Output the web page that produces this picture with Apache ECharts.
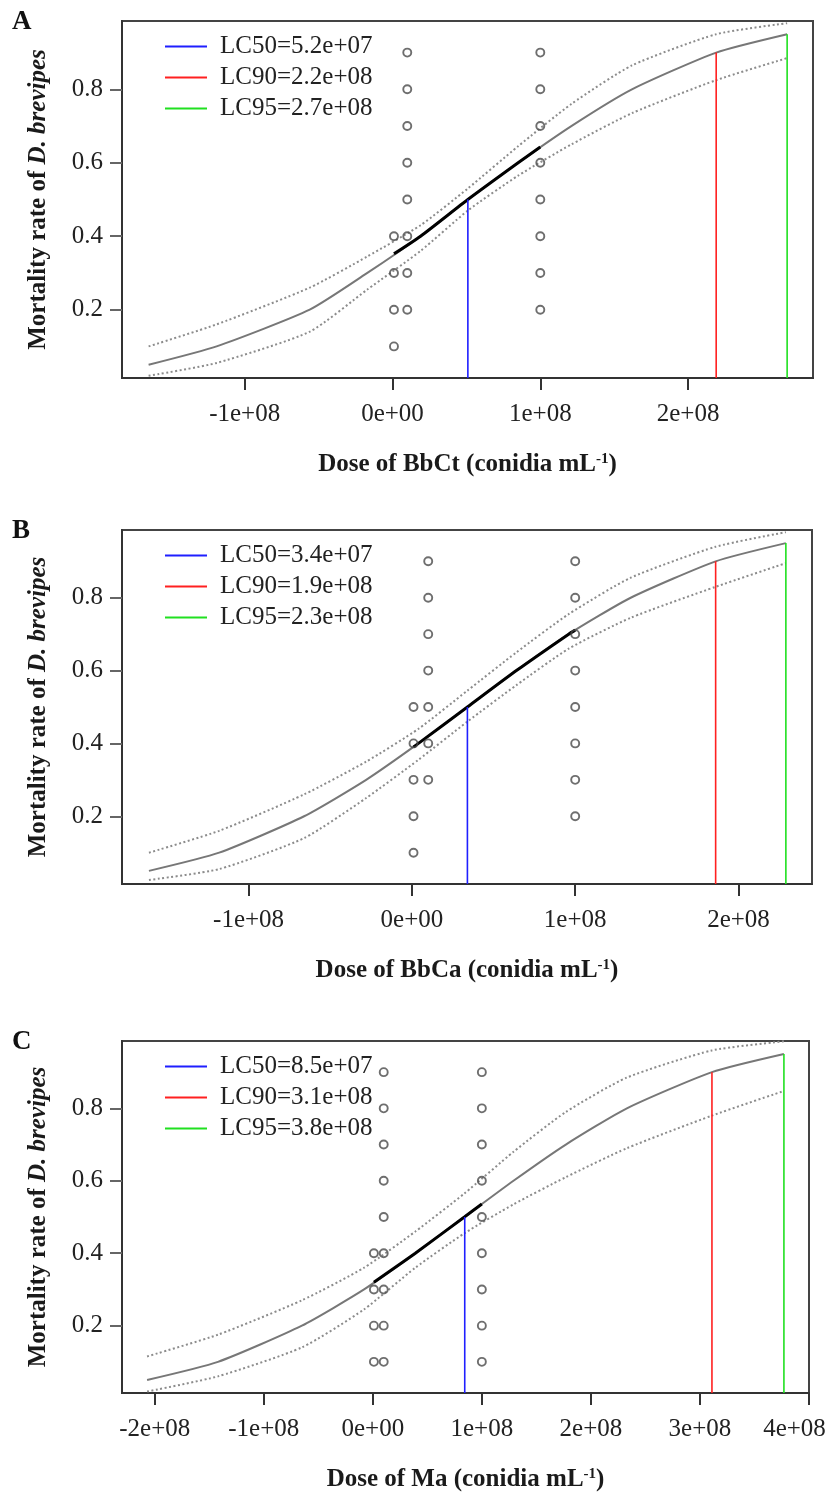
<!DOCTYPE html>
<html><head><meta charset="utf-8">
<script src="https://cdn.jsdelivr.net/npm/echarts@6/dist/echarts.min.js"></script>
<style>html,body{margin:0;padding:0;background:#fff}#c{width:835px;height:1495px}</style>
</head><body><div id="c"></div>
<script>
// probability levels at which the fitted curve / confidence limits were drawn
const probLevels = [0.05, 0.1, 0.2, 0.3, 0.4, 0.5, 0.6, 0.7, 0.8, 0.9, 0.95];
const lcLevels = [0.5, 0.9, 0.95];
const yTicks = [0.2, 0.4, 0.6, 0.8];
const yTickLabels = ['0.2', '0.4', '0.6', '0.8'];

// ---- Panel A (BbCt)
const doseA  = [-1.65e8, -1.19e8, -0.56e8, -0.17e8, 0.19e8, 0.51e8, 0.85e8, 1.21e8, 1.62e8, 2.19e8, 2.67e8];
const upperA = [0.10, 0.16, 0.26, 0.345, 0.43, 0.53, 0.645, 0.76, 0.865, 0.95, 0.98];
const lowerA = [0.02, 0.055, 0.14, 0.255, 0.36, 0.47, 0.565, 0.65, 0.735, 0.825, 0.885];
const segA   = [[0.01e8, 0.352], [0.19e8, 0.4], [0.51e8, 0.5], [0.85e8, 0.6], [1e8, 0.643]];
const obsDoseA = [1e6, 1e6, 1e6, 1e6, 1e7, 1e7, 1e7, 1e7, 1e7, 1e7, 1e7, 1e7, 1e8, 1e8, 1e8, 1e8, 1e8, 1e8, 1e8, 1e8];
const obsRateA = [0.1, 0.2, 0.3, 0.4, 0.2, 0.3, 0.4, 0.5, 0.6, 0.7, 0.8, 0.9, 0.2, 0.3, 0.4, 0.5, 0.6, 0.7, 0.8, 0.9];
const lcA = [0.51e8, 2.19e8, 2.67e8];
const lcLabelsA = ['LC50=5.2e+07', 'LC90=2.2e+08', 'LC95=2.7e+08'];
const xTicksA = [-1e8, 0, 1e8, 2e8];
const xTickLabelsA = ['-1e+08', '0e+00', '1e+08', '2e+08'];

// ---- Panel B (BbCa)
const doseB  = [-1.61e8, -1.18e8, -0.66e8, -0.28e8, 0.04e8, 0.34e8, 0.64e8, 0.96e8, 1.34e8, 1.86e8, 2.29e8];
const upperB = [0.10, 0.16, 0.26, 0.35, 0.44, 0.545, 0.65, 0.755, 0.855, 0.94, 0.98];
const lowerB = [0.025, 0.055, 0.14, 0.25, 0.355, 0.46, 0.56, 0.66, 0.745, 0.83, 0.895];
const segB   = [[0.01e8, 0.39], [0.04e8, 0.4], [0.34e8, 0.5], [0.64e8, 0.6], [0.96e8, 0.7], [1e8, 0.711]];
const obsDoseB = [1e6, 1e6, 1e6, 1e6, 1e6, 1e7, 1e7, 1e7, 1e7, 1e7, 1e7, 1e7, 1e8, 1e8, 1e8, 1e8, 1e8, 1e8, 1e8, 1e8];
const obsRateB = [0.1, 0.2, 0.3, 0.4, 0.5, 0.3, 0.4, 0.5, 0.6, 0.7, 0.8, 0.9, 0.2, 0.3, 0.4, 0.5, 0.6, 0.7, 0.8, 0.9];
const lcB = [0.34e8, 1.86e8, 2.29e8];
const lcLabelsB = ['LC50=3.4e+07', 'LC90=1.9e+08', 'LC95=2.3e+08'];
const xTicksB = [-1e8, 0, 1e8, 2e8];
const xTickLabelsB = ['-1e+08', '0e+00', '1e+08', '2e+08'];

// ---- Panel C (Ma)
const doseC  = [-2.07e8, -1.42e8, -0.65e8, -0.08e8, 0.39e8, 0.84e8, 1.29e8, 1.77e8, 2.33e8, 3.11e8, 3.77e8];
const upperC = [0.115, 0.175, 0.27, 0.36, 0.46, 0.565, 0.68, 0.79, 0.885, 0.96, 0.985];
const lowerC = [0.018, 0.06, 0.14, 0.245, 0.36, 0.455, 0.535, 0.61, 0.69, 0.78, 0.848];
const segC   = [[0.01e8, 0.32], [0.39e8, 0.4], [0.84e8, 0.5], [1e8, 0.536]];
const obsDoseC = [1e6, 1e6, 1e6, 1e6, 1e7, 1e7, 1e7, 1e7, 1e7, 1e7, 1e7, 1e7, 1e7, 1e8, 1e8, 1e8, 1e8, 1e8, 1e8, 1e8, 1e8, 1e8];
const obsRateC = [0.1, 0.2, 0.3, 0.4, 0.1, 0.2, 0.3, 0.4, 0.5, 0.6, 0.7, 0.8, 0.9, 0.1, 0.2, 0.3, 0.4, 0.5, 0.6, 0.7, 0.8, 0.9];
const lcC = [0.843e8, 3.11e8, 3.77e8];
const lcLabelsC = ['LC50=8.5e+07', 'LC90=3.1e+08', 'LC95=3.8e+08'];
const xTicksC = [-2e8, -1e8, 0, 1e8, 2e8, 3e8, 4e8];
const xTickLabelsC = ['-2e+08', '-1e+08', '0e+00', '1e+08', '2e+08', '3e+08', '4e+08'];

const panels = [
  {letter: 'A', agent: 'BbCt', dose: doseA, upper: upperA, lower: lowerA, seg: segA, od: obsDoseA, orate: obsRateA, lc: lcA, lcLabels: lcLabelsA, xt: xTicksA, xl: xTickLabelsA,
   grid: {left: 122, top: 21, width: 691, height: 357}, xmin: -1.83e8, xmax: 2.845e8, padLast: 0},
  {letter: 'B', agent: 'BbCa', dose: doseB, upper: upperB, lower: lowerB, seg: segB, od: obsDoseB, orate: obsRateB, lc: lcB, lcLabels: lcLabelsB, xt: xTicksB, xl: xTickLabelsB,
   grid: {left: 122, top: 530, width: 690, height: 354}, xmin: -1.775e8, xmax: 2.45e8, padLast: 0},
  {letter: 'C', agent: 'Ma', dose: doseC, upper: upperC, lower: lowerC, seg: segC, od: obsDoseC, orate: obsRateC, lc: lcC, lcLabels: lcLabelsC, xt: xTicksC, xl: xTickLabelsC,
   grid: {left: 122, top: 1041, width: 687, height: 352}, xmin: -2.3e8, xmax: 4.0e8, padLast: 29}
];

const YMIN = 0.014, YMAX = 0.986;
const FONT = '"Liberation Serif", "Times New Roman", serif';
const lcColors = ['#1f1fff', '#ff2020', '#20e020'];

const grids = [], xAxes = [], yAxes = [], series = [], legends = [], graphics = [];
panels.forEach((p, i) => {
  grids.push(Object.assign({show: true, borderColor: '#444', borderWidth: 2, backgroundColor: 'transparent',
    containLabel: false, outerBoundsMode: 'none'}, p.grid));
  xAxes.push({
    gridIndex: i, type: 'value', min: p.xmin, max: p.xmax,
    axisLine: {show: true, onZero: false, lineStyle: {color: '#333', width: 2}},
    axisTick: {show: true, length: 12, customValues: p.xt, lineStyle: {color: '#333', width: 2}},
    axisLabel: {customValues: p.xt, fontFamily: FONT, fontSize: 25, color: '#222', margin: 24, hideOverlap: false,
      rich: {r: {fontFamily: FONT, fontSize: 25, color: '#222', padding: [0, p.padLast, 0, 0]}},
      formatter: v => {
        const k = p.xt.findIndex(t => Math.abs(t - v) < 1);
        if (k < 0) return '';
        return (k === p.xt.length - 1 && p.padLast) ? '{r|' + p.xl[k] + '}' : p.xl[k];
      }},
    splitLine: {show: false},
    name: '{t|Dose of ' + p.agent + ' (conidia mL}{s|-1}{t|)}',
    nameLocation: 'middle', nameGap: 74,
    nameTextStyle: {rich: {
      t: {fontFamily: FONT, fontWeight: 'bold', fontSize: 25, color: '#1a1a1a'},
      s: {fontFamily: FONT, fontWeight: 'bold', fontSize: 15, color: '#1a1a1a', verticalAlign: 'top'}
    }}
  });
  yAxes.push({
    gridIndex: i, type: 'value', min: YMIN, max: YMAX,
    axisLine: {show: true, onZero: false, lineStyle: {color: '#333', width: 2}},
    axisTick: {show: true, length: 12, customValues: yTicks, lineStyle: {color: '#666', width: 2}},
    axisLabel: {customValues: yTicks, fontFamily: FONT, fontSize: 25, color: '#222', margin: 19,
      formatter: v => { const k = yTicks.findIndex(t => Math.abs(t - v) < 1e-6); return k >= 0 ? yTickLabels[k] : ''; }},
    splitLine: {show: false},
    name: '{t|Mortality rate of }{i|D. brevipes}',
    nameLocation: 'middle', nameGap: 71,
    nameTextStyle: {rich: {
      t: {fontFamily: FONT, fontWeight: 'bold', fontSize: 25, color: '#1a1a1a'},
      i: {fontFamily: FONT, fontWeight: 'bold', fontStyle: 'italic', fontSize: 25, color: '#1a1a1a'}
    }}
  });
  const base = {xAxisIndex: i, yAxisIndex: i, symbol: 'none', silent: true};
  const smoothOpt = {smooth: 0.2};
  series.push(Object.assign({type: 'line', data: p.dose.map((d, k) => [d, p.upper[k]]),
    lineStyle: {color: '#8c8c8c', width: 2, type: [2, 2.5]}}, base, smoothOpt));
  series.push(Object.assign({type: 'line', data: p.dose.map((d, k) => [d, p.lower[k]]),
    lineStyle: {color: '#8c8c8c', width: 2, type: [2, 2.5]}}, base, smoothOpt));
  series.push(Object.assign({type: 'line', data: p.dose.map((d, k) => [d, probLevels[k]]),
    lineStyle: {color: '#777', width: 2}}, base, smoothOpt));
  series.push(Object.assign({type: 'line', data: p.seg, lineStyle: {color: '#000', width: 3}, z: 3}, base, smoothOpt));
  series.push({type: 'scatter', xAxisIndex: i, yAxisIndex: i, silent: true,
    data: p.od.map((d, k) => [d, p.orate[k]]), symbol: 'circle', symbolSize: 8,
    itemStyle: {color: 'rgba(255,255,255,0)', borderColor: '#4a4a4a', borderWidth: 1.9}, z: 4});
  p.lc.forEach((v, k) => {
    series.push(Object.assign({type: 'line', name: p.lcLabels[k], color: lcColors[k],
      data: [[v, YMIN], [v, lcLevels[k]]], lineStyle: {color: lcColors[k], width: 1.6}, itemStyle: {color: lcColors[k]}, z: 5}, base));
  });
  legends.push({data: p.lcLabels, left: 160, top: p.grid.top + 8, orient: 'vertical', icon: 'rect',
    itemWidth: 42, itemHeight: 2, itemGap: 6, selectedMode: false,
    textStyle: {fontFamily: FONT, fontSize: 25, color: '#222', padding: [0, 0, 0, 8]}});
  graphics.push({type: 'text', left: 12, top: p.grid.top - 12,
    style: {text: p.letter, font: 'bold 27px "Liberation Serif"', fill: '#111'}});
});

const chart = echarts.init(document.getElementById('c'), null, {renderer: 'canvas'});
chart.setOption({
  animation: false, backgroundColor: '#fff',
  grid: grids, xAxis: xAxes, yAxis: yAxes, series: series, legend: legends, graphic: graphics
});
</script></body></html>
